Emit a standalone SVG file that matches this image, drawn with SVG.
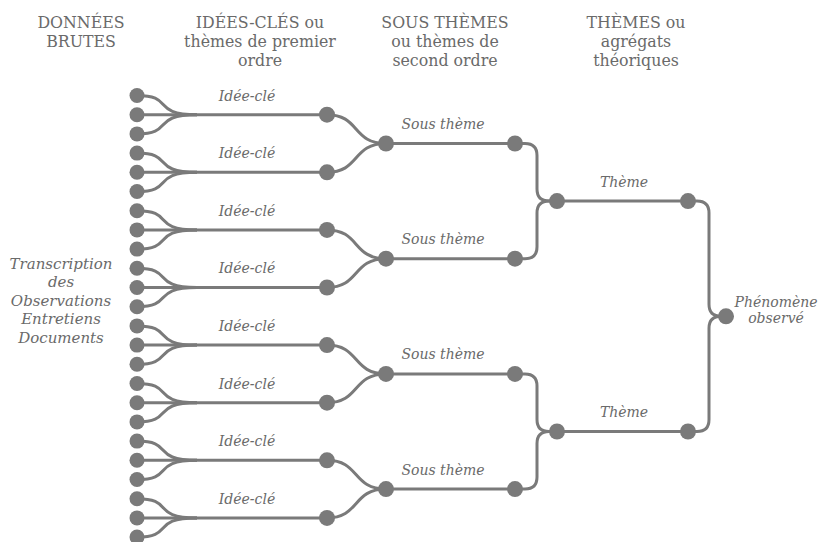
<svg xmlns="http://www.w3.org/2000/svg" width="821" height="542" viewBox="0 0 821 542">
<style>
.hd{font-family:"DejaVu Serif","Liberation Serif",serif;font-size:15.8px;fill:#6a6a6a;text-anchor:middle}
.lb{font-family:"DejaVu Serif","Liberation Serif",serif;font-style:italic;font-size:14px;fill:#6a6a6a;text-anchor:middle}
.src{font-family:"DejaVu Serif","Liberation Serif",serif;font-style:italic;font-size:15px;fill:#6a6a6a;text-anchor:middle}
.e{fill:none;stroke:#7a7a7a;stroke-width:3}
.lf{fill:#7a7a7a}
.nd{fill:#7a7a7a}
</style>
<defs>
<g id="leafset">
<path class="e" d="M137,-19.2 C175,-19.2 150,0 197,0"/>
<path class="e" d="M137,19.2 C175,19.2 150,0 197,0"/>
<path class="e" d="M137,0 H327"/>
<circle class="lf" cx="137" cy="-19.2" r="7.5"/>
<circle class="lf" cx="137" cy="0" r="7.5"/>
<circle class="lf" cx="137" cy="19.2" r="7.5"/>
</g>
</defs>

<g id="headers">
<text class="hd" x="81" y="28">DONNÉES</text>
<text class="hd" x="81" y="47">BRUTES</text>
<text class="hd" x="260" y="28">IDÉES-CLÉS ou</text>
<text class="hd" x="260" y="47">thèmes de premier</text>
<text class="hd" x="260" y="66">ordre</text>
<text class="hd" x="445" y="28">SOUS THÈMES</text>
<text class="hd" x="445" y="47">ou thèmes de</text>
<text class="hd" x="445" y="66">second ordre</text>
<text class="hd" x="636" y="28">THÈMES ou</text>
<text class="hd" x="636" y="47">agrégats</text>
<text class="hd" x="636" y="66">théoriques</text>
</g>

<g id="source-label">
<text class="src" x="61" y="268.5">Transcription</text>
<text class="src" x="61" y="287">des</text>
<text class="src" x="61" y="305.5">Observations</text>
<text class="src" x="61" y="324">Entretiens</text>
<text class="src" x="61" y="342.5">Documents</text>
</g>

<g id="connectors">
<path class="e" d="M327,114.7 C360,114.7 352,143.5 386,143.5"/>
<path class="e" d="M327,172.3 C360,172.3 352,143.5 386,143.5"/>
<path class="e" d="M327,229.9 C360,229.9 352,258.7 386,258.7"/>
<path class="e" d="M327,287.5 C360,287.5 352,258.7 386,258.7"/>
<path class="e" d="M327,345.1 C360,345.1 352,373.9 386,373.9"/>
<path class="e" d="M327,402.7 C360,402.7 352,373.9 386,373.9"/>
<path class="e" d="M327,460.3 C360,460.3 352,489.1 386,489.1"/>
<path class="e" d="M327,517.9 C360,517.9 352,489.1 386,489.1"/>
<path class="e" d="M386,143.5 H515"/>
<path class="e" d="M386,258.7 H515"/>
<path class="e" d="M386,373.9 H515"/>
<path class="e" d="M386,489.1 H515"/>
<path class="e" d="M515,143.5 H525 Q537,143.5 537,155.5 V189.1 Q537,201.1 549,201.1 H557"/>
<path class="e" d="M515,258.7 H525 Q537,258.7 537,246.7 V213.1 Q537,201.1 549,201.1 H557"/>
<path class="e" d="M515,373.9 H525 Q537,373.9 537,385.9 V419.5 Q537,431.5 549,431.5 H557"/>
<path class="e" d="M515,489.1 H525 Q537,489.1 537,477.1 V443.5 Q537,431.5 549,431.5 H557"/>
<path class="e" d="M557,201.1 H688"/>
<path class="e" d="M557,431.5 H688"/>
<path class="e" d="M688,201.1 H697 Q709,201.1 709,213.1 V304.3 Q709,316.3 721,316.3 H726"/>
<path class="e" d="M688,431.5 H697 Q709,431.5 709,419.5 V328.3 Q709,316.3 721,316.3 H726"/>
</g>

<g id="idea-1"><use href="#leafset" transform="translate(0,114.7)"/><circle class="nd" cx="327" cy="114.7" r="8"/><text class="lb" x="247" y="100.5">Idée-clé</text></g>
<g id="idea-2"><use href="#leafset" transform="translate(0,172.3)"/><circle class="nd" cx="327" cy="172.3" r="8"/><text class="lb" x="247" y="158.1">Idée-clé</text></g>
<g id="idea-3"><use href="#leafset" transform="translate(0,229.9)"/><circle class="nd" cx="327" cy="229.9" r="8"/><text class="lb" x="247" y="215.7">Idée-clé</text></g>
<g id="idea-4"><use href="#leafset" transform="translate(0,287.5)"/><circle class="nd" cx="327" cy="287.5" r="8"/><text class="lb" x="247" y="273.3">Idée-clé</text></g>
<g id="idea-5"><use href="#leafset" transform="translate(0,345.1)"/><circle class="nd" cx="327" cy="345.1" r="8"/><text class="lb" x="247" y="330.9">Idée-clé</text></g>
<g id="idea-6"><use href="#leafset" transform="translate(0,402.7)"/><circle class="nd" cx="327" cy="402.7" r="8"/><text class="lb" x="247" y="388.5">Idée-clé</text></g>
<g id="idea-7"><use href="#leafset" transform="translate(0,460.3)"/><circle class="nd" cx="327" cy="460.3" r="8"/><text class="lb" x="247" y="446.1">Idée-clé</text></g>
<g id="idea-8"><use href="#leafset" transform="translate(0,517.9)"/><circle class="nd" cx="327" cy="517.9" r="8"/><text class="lb" x="247" y="503.7">Idée-clé</text></g>

<g id="sous-1"><circle class="nd" cx="386" cy="143.5" r="8"/><circle class="nd" cx="515" cy="143.5" r="8"/><text class="lb" x="443" y="129">Sous thème</text></g>
<g id="sous-2"><circle class="nd" cx="386" cy="258.7" r="8"/><circle class="nd" cx="515" cy="258.7" r="8"/><text class="lb" x="443" y="244.2">Sous thème</text></g>
<g id="sous-3"><circle class="nd" cx="386" cy="373.9" r="8"/><circle class="nd" cx="515" cy="373.9" r="8"/><text class="lb" x="443" y="359.4">Sous thème</text></g>
<g id="sous-4"><circle class="nd" cx="386" cy="489.1" r="8"/><circle class="nd" cx="515" cy="489.1" r="8"/><text class="lb" x="443" y="474.6">Sous thème</text></g>

<g id="theme-1"><circle class="nd" cx="557" cy="201.1" r="8"/><circle class="nd" cx="688" cy="201.1" r="8"/><text class="lb" x="624" y="187">Thème</text></g>
<g id="theme-2"><circle class="nd" cx="557" cy="431.5" r="8"/><circle class="nd" cx="688" cy="431.5" r="8"/><text class="lb" x="624" y="417.4">Thème</text></g>

<g id="phenomene"><circle class="nd" cx="726" cy="316.3" r="8"/><text class="lb" x="776" y="306.5">Phénomène</text><text class="lb" x="776" y="323">observé</text></g>
</svg>
